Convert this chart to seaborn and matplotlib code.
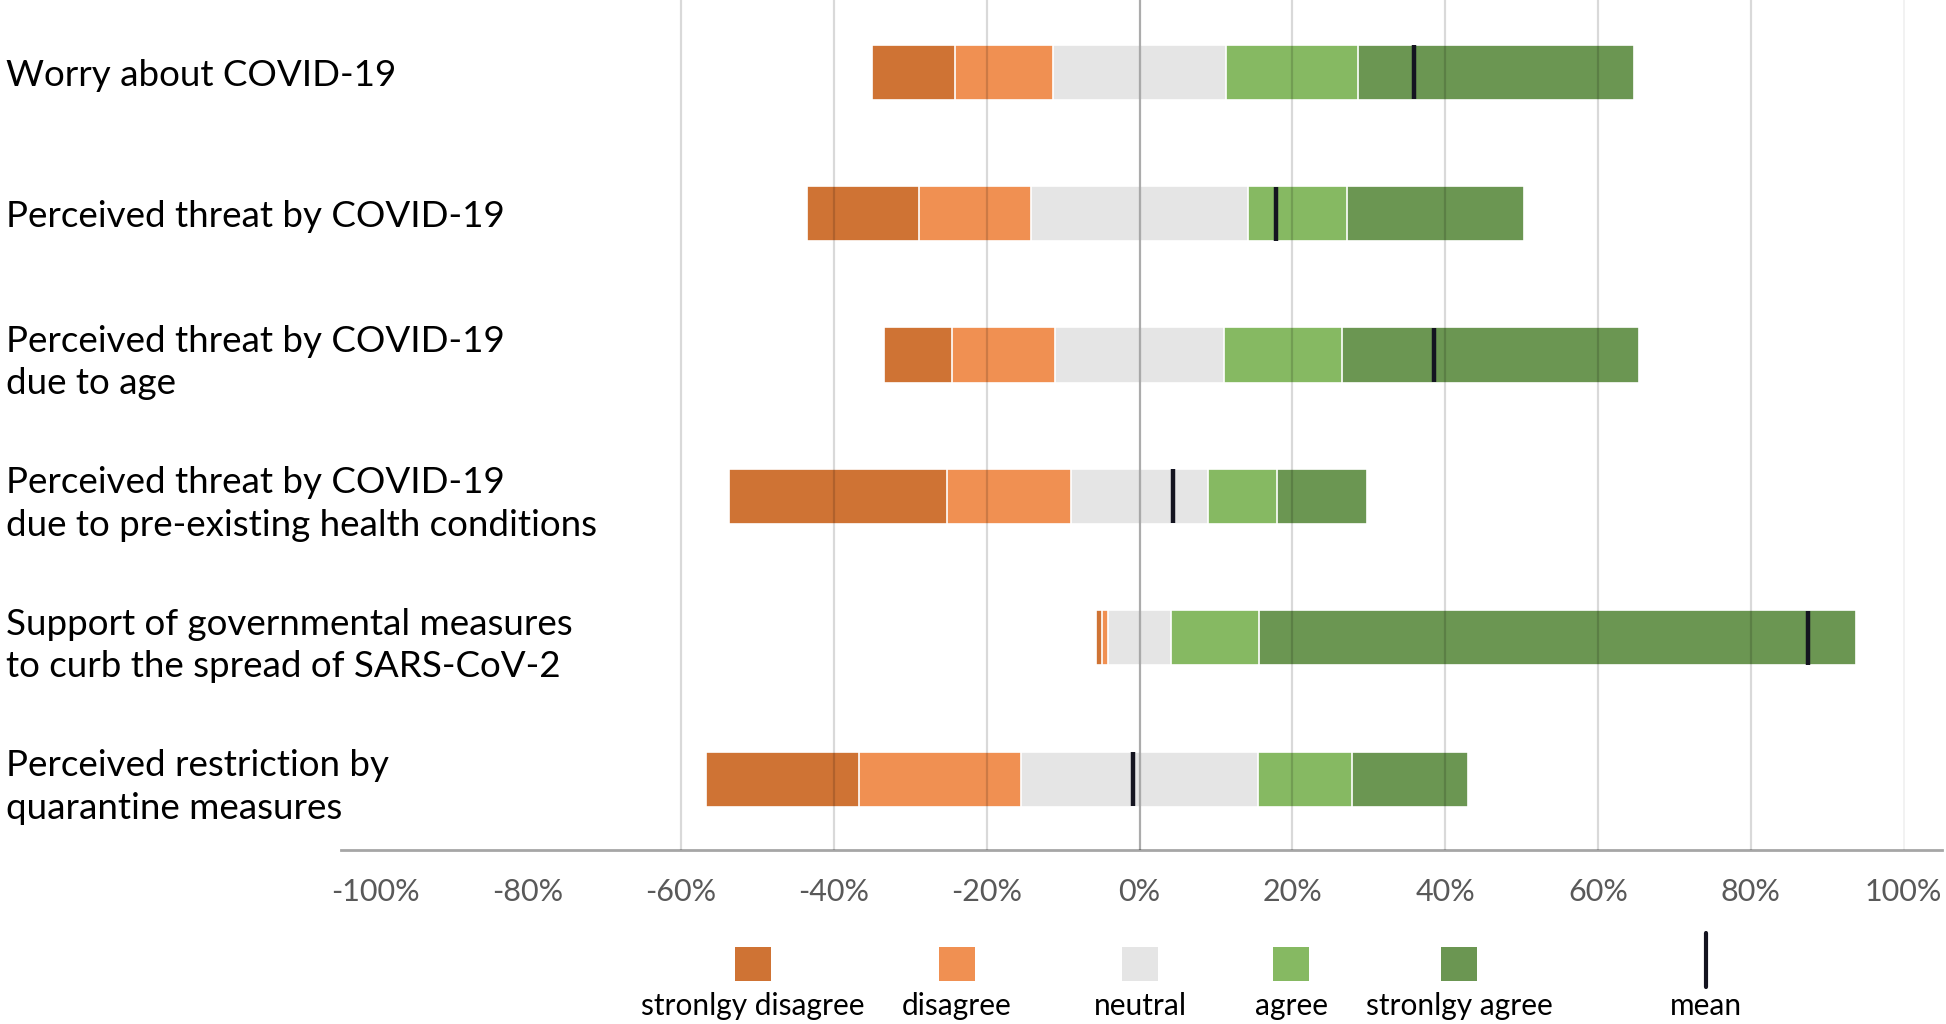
import matplotlib
matplotlib.use("Agg")
import matplotlib.pyplot as plt
import matplotlib.patches as mpatches
import numpy as np
import seaborn as sns

# ------- DATA (percent of respondents) -------

items = [
    "Worry about COVID-19",
    "Perceived threat by COVID-19",
    "Perceived threat by COVID-19\ndue to age",
    "Perceived threat by COVID-19\ndue to pre-existing health conditions",
    "Support of governmental measures\nto curb the spread of SARS-CoV-2",
    "Perceived restriction by\nquarantine measures",
]
strongly_disagree = [10.8, 14.7, 8.9, 28.5, 0.8, 20.1]
disagree = [12.9, 14.6, 13.5, 16.3, 0.8, 21.2]
neutral = [22.6, 28.5, 22.2, 17.9, 8.2, 30.9]
agree = [17.3, 12.9, 15.4, 9.1, 11.6, 12.4]
strongly_agree = [36.1, 23.1, 38.9, 11.7, 78.0, 15.2]
means = [35.9, 17.9, 38.5, 4.4, 87.5, -0.8]

legend_labels = ["stronlgy disagree", "disagree", "neutral", "agree", "stronlgy agree", "mean"]
xticks = list(range(-100, 101, 20))

# ------- STYLE -------

c_sd = "#CF7334"
c_d = "#F09052"
c_n = "#E5E5E5"
c_a = "#86B962"
c_sa = "#6B9652"
c_mean = "#141420"

sns.set_theme(style="white")
plt.rcParams["font.family"] = ["Lato", "DejaVu Sans"]

fig = plt.figure(figsize=(19.46, 10.24), dpi=100)
ax = fig.add_axes([0.1752, 0.170, 0.8227, 0.830])

# ------- DIVERGING STACKED BARS (overlay of cumulative bars) -------

sd = np.array(strongly_disagree)
d = np.array(disagree)
n = np.array(neutral)
a = np.array(agree)
sa = np.array(strongly_agree)

layers = [
    (n / 2 + a + sa, c_sa),
    (n / 2 + a, c_a),
    (n / 2, c_n),
    (-(n / 2 + d + sd), c_sd),
    (-(n / 2 + d), c_d),
    (-(n / 2), c_n),
]
for vals, col in layers:
    sns.barplot(x=vals, y=items, orient="h", color=col, width=0.39,
                edgecolor="white", linewidth=1.2, saturation=1, ax=ax, zorder=2)

# mean markers
sns.scatterplot(x=means, y=np.arange(len(items)), marker="|", s=1550,
                color=c_mean, linewidth=3.2, ax=ax, zorder=6, legend=False)

# gridlines (left part of the grid is hidden behind the labels in the original)
for t in xticks:
    if t < -60:
        continue
    if t == 0:
        ax.axvline(t, color="black", alpha=0.33, lw=1.6, zorder=4)
    elif t == 100:
        ax.axvline(t, color="black", alpha=0.05, lw=1.4, zorder=4)
    else:
        ax.axvline(t, color="black", alpha=0.15, lw=1.6, zorder=4)

ax.set_xlim(-104.5, 105)
ax.set_ylim(len(items) - 0.5, -0.51)
ax.set_xticks(xticks)
ax.set_xticklabels([f"{t}%" for t in xticks], color="#595959", fontsize=22)
ax.tick_params(axis="x", length=0, pad=20)
ax.tick_params(axis="y", length=0, pad=241)
for lab in ax.get_yticklabels():
    lab.set_horizontalalignment("left")
    lab.set_fontsize(26.5)
    lab.set_linespacing(1.35)
    lab.set_color("black")
ax.set_xlabel("")
ax.set_ylabel("")

for s in ["top", "right", "left"]:
    ax.spines[s].set_visible(False)
ax.spines["bottom"].set_color("#a6a6a6")
ax.spines["bottom"].set_linewidth(2)

# ------- LEGEND (patches above labels) -------

lax = fig.add_axes([0, 0, 1, 1], zorder=-1)
lax.set_xlim(0, 1946)
lax.set_ylim(1024, 0)
lax.axis("off")

leg_x = [753, 957, 1140, 1291, 1459, 1706]
leg_cols = [c_sd, c_d, c_n, c_a, c_sa]
for x, col in zip(leg_x[:5], leg_cols):
    lax.add_patch(mpatches.Rectangle((x - 18, 947), 36, 34, facecolor=col, edgecolor="none"))
lax.plot([leg_x[5], leg_x[5]], [933, 987], color=c_mean, lw=3)
for x, lab in zip(leg_x, legend_labels):
    lax.text(x, 1006, lab, ha="center", va="center", fontsize=21.5, color="black")

fig.savefig("out.png", dpi=100)
